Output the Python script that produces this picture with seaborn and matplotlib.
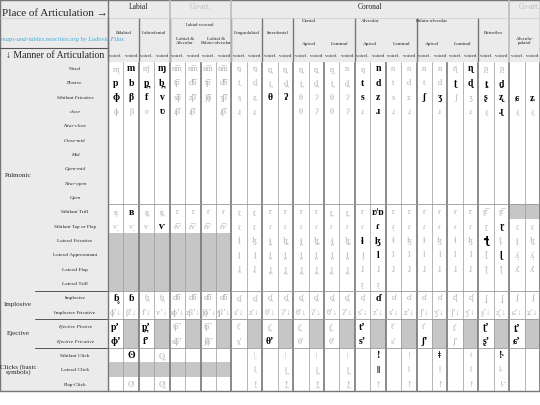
import numpy as np
import pandas as pd
import seaborn as sns
import matplotlib.pyplot as plt
from matplotlib.colors import ListedColormap

sns.set_style("white")
plt.rcParams['font.family'] = ['Liberation Serif', 'DejaVu Serif', 'DejaVu Sans']

row_labels = ['Nasal', 'Plosive', 'Sibilant Fricative', 'close', 'Near-close', 'Close-mid',
              'Mid', 'Open-mid', 'Near-open', 'Open', 'Sibilant Trill', 'Sibilant Tap or Flap',
              'Lateral Fricative', 'Lateral Approximant', 'Lateral Flap', 'Lateral Trill',
              'Implosive', 'Implosive Fricative', 'Ejective Plosive', 'Ejective Fricative',
              'Sibilant Click', 'Lateral Click', 'Flap-Click']
italic_rows = ['close', 'Near-close', 'Close-mid', 'Mid', 'Open-mid', 'Near-open', 'Open',
               'Ejective Plosive', 'Ejective Fricative']

nasal = ['m̥', 'm', 'ɱ̊', 'ɱ', 'n͡m', 'n͡m', 'n͡m', 'n͡m', 'n̼', 'n̼', 'n̪', 'n̪', 'n̪', 'n̪',
         'n̺', 'n', 'n̻', 'n', 'n', 'n', 'n', 'n', 'ɳ̊', 'ɳ', 'ɲ̟', 'ɲ̟', '', '']
plosive = ['p', 'b', 'p̪', 'b̪', 't͡p', 'd͡b', 't͡p', 'd͡b', 't̼', 'd̼', 't̪', 'd̪', 't̪', 'd̪',
           't̪', 'd̪', 't', 'd', 't', 'd', 't', 'd', 'ʈ', 'ɖ', 'ṯ', 'ḏ', '', '']
sib_fric = ['ɸ', 'β', 'f', 'v', 's͡ɸ', 'z͡β', 'ʃ͡ɸ', 'ʒ͡β', 's̼', 'z̼', 'θ', 'ʔ', 'θ', 'ʔ',
            'θ', 'ʔ', 's', 'z', 's', 'z', 'ʃ', 'ʒ', 'ʃ', 'ʒ', 'ʂ', 'ʐ', 'ɕ', 'ʑ']
close_ = ['ɸ', 'β', 'ʋ', 'ʋ', 'ɹ͡β', 'ɹ͡β', '', 'ɻ͡β', 'ɹ̼', 'ɹ̼', '', '', 'θ', 'ʔ', 'θ', 'ʔ',
          'ɹ', 'ɹ', 'ɹ', 'ɹ', '', 'ɹ', '', 'ɹ', 'ɻ', 'ɻ', 'ɻ', 'ɻ']
sib_trill = ['ʙ̥', 'ʙ', 'ʙ̪', 'ʙ̪', 'r', 'r', 'r', 'r', 'r̼', 'r̼', 'r', 'r', 'r', 'r',
             'r̪', 'r̪', 'r', 'r/ɒ', 'r', 'r', 'r', 'r', 'r', 'r', 'ɽ͡r', 'ɽ͡r', '', '']
sib_tap = ['ⱱ̟', 'ⱱ̟', 'ⱱ', 'ⱱ', 'ɾ͡ⱱ', 'ɾ͡ⱱ', 'ɾ͡ⱱ', 'ɾ͡ⱱ', 'ɾ̼', 'ɾ̼', 'ɾ', 'ɾ', 'ɾ', 'ɾ',
           'ɾ', 'ɾ', 'ɾ', 'ɾ', 'ɾ̟', 'ɾ', 'ɾ', 'ɾ', 'ɾ', 'ɾ', 'ɽ', 'ɽ', 'ɾ̠', 'ɾ̠']
lat_fric = [''] * 8 + ['ɬ̼', 'ɮ̼', 'ɬ̪', 'ɮ̪', 'ɬ̪', 'ɮ̪', 'ɬ̪', 'ɮ̪', 'ɬ', 'ɮ', 'ɬ', 'ɮ',
                       'ɬ', 'ɮ', 'ɬ', 'ɮ', 'ꞎ', 'ɭ˔', 'ɬ̠', 'ɮ̠']
lat_appr = [''] * 8 + ['l̼', 'l̼', 'l̪', 'l̪', 'l̪', 'l̪', 'l̪', 'l̪', 'l̥', 'l', 'l', 'l',
                       'l', 'l', 'l', 'l', 'ɭ̊', 'ɭ', 'ʎ̟', 'ʎ̟']
lat_flap = [''] * 8 + ['ɺ̼', 'ɺ̼', 'ɺ̪', 'ɺ̪', 'ɺ̪', 'ɺ̪', 'ɺ̪', 'ɺ̪', 'ɺ', 'ɺ', 'ɺ', 'ɺ',
                       'ɺ', 'ɺ', 'ɺ', 'ɺ', 'ɭ̆', 'ɭ̆', 'ʎ̆', 'ʎ̆']
lat_trill = [''] * 8 + ['', '', '', '', '', '', '', '', 'r̝', 'r̝', '', '', '', '', '', '',
                        '', '', '', '']
implosive = ['ɓ̥', 'ɓ', 'ɓ̪', 'ɓ̪', 'ɗ͡ɓ', 'ɗ͡ɓ', 'ɗ͡ɓ', 'ɗ͡ɓ', 'ɗ̼', 'ɗ̼', 'ɗ̪', 'ɗ̪', 'ɗ̪', 'ɗ̪',
             'ɗ̪', 'ɗ̪', 'ɗ̥', 'ɗ', 'ɗ', 'ɗ', 'ɗ', 'ɗ', 'ᶑ̊', 'ᶑ', 'ʄ̟', 'ʄ̟', 'ʄ', 'ʄ']
impl_fric = ['ɸʼ↓', 'βʼ↓', 'fʼ↓', 'vʼ↓', 'sɸʼ↓', 'zβʼ↓', 'ʃɸʼ↓', 'ʒβʼ↓', 'sʼ↓', 'zʼ↓', 'θʼ↓', 'ʔʼ↓',
             'θʼ↓', 'ʔʼ↓', 'θʼ↓', 'ʔʼ↓', 'sʼ↓', 'zʼ↓', 'sʼ↓', 'zʼ↓', 'ʃʼ↓', 'ʒʼ↓', 'ʃʼ↓', 'ʒʼ↓',
             'ʂʼ↓', 'ʐʼ↓', 'ɕʼ↓', 'ʑʼ↓']
ej_plos = ['pʼ', '', 'p̪ʼ', '', 't͡pʼ', '', 't͡pʼ', '', 't̼ʼ', '', 't̪ʼ', '', 't̪ʼ', '',
           't̪ʼ', '', 'tʼ', '', 'tʼ', '', 'tʼ', '', 't̠ʼ', '', 'ʈʼ', '', 'ṯʼ', '']
ej_fric = ['ɸʼ', '', 'fʼ', '', 's͡ɸʼ', '', 'ʃ͡ɸʼ', '', 's̼ʼ', '', 'θʼ', '', 'θʼ', '',
           'θʼ', '', 'sʼ', '', 'sʼ', '', 'ʃʼ', '', 'ʃʼ', '', 'ʂʼ', '', 'ɕʼ', '']
sib_click = ['', 'ʘ', '', 'ʘ̪', '', '', '', '', '', 'ǀ̼', '', 'ǀ', '', 'ǀ', '', 'ǀ',
             '', 'ǃ', '', 'ǃ', '', 'ǂ', '', 'ǂ', '', 'ǃ˞', '', '']
lat_click = [''] * 8 + ['', 'ǁ̼', '', 'ǁ̪', '', 'ǁ̪', '', 'ǁ̪', '', 'ǁ', '', 'ǁ', '', 'ǁ',
                        '', 'ǁ', '', 'ǁ˞', '', '']
flap_click = ['', 'ʘ̆', '', 'ʘ̪̆', '', '', '', '', '', 'ǃ̼̆', '', 'ǃ̪̆', '', 'ǃ̪̆', '', 'ǃ̪̆',
              '', 'ǃ̆', '', 'ǃ̆', '', 'ǃ̆', '', 'ǃ̆', '', 'ǃ˞̆', '', '']
empty = [''] * 28
rows = [nasal, plosive, sib_fric, close_, empty, empty, empty, empty, empty, empty,
        sib_trill, sib_tap, lat_fric, lat_appr, lat_flap, lat_trill, implosive, impl_fric,
        ej_plos, ej_fric, sib_click, lat_click, flap_click]

# black symbols: (row, column)
dark = [(0, 1), (0, 3), (0, 17), (0, 23), (1, 0), (1, 1), (1, 2), (1, 3), (1, 16), (1, 17),
        (1, 22), (1, 23), (1, 24), (1, 25), (2, 0), (2, 1), (2, 2), (2, 3), (2, 10), (2, 11),
        (2, 16), (2, 17), (2, 20), (2, 21), (2, 24), (2, 25), (2, 26), (2, 27), (3, 3),
        (3, 17), (3, 25), (10, 1), (10, 17), (11, 3), (11, 17), (11, 25), (12, 16), (12, 17),
        (12, 24), (13, 17), (13, 25), (16, 0), (16, 1), (16, 17), (18, 0), (18, 2), (18, 16),
        (18, 24), (18, 26), (19, 0), (19, 2), (19, 10), (19, 16), (19, 20), (19, 24),
        (19, 26), (20, 1), (20, 17), (20, 21), (20, 25), (21, 17)]

groups = ['Bilabial', 'Labiodental', 'Labial &\nAlveolar', 'Labial &\nPalato-alveolar',
          'Linguolabial', 'Interdental', 'Apical', 'Laminal', 'Apical', 'Laminal',
          'Apical', 'Laminal', 'Retroflex', 'Alveolo-\npalatal']

# grey (impossible) cells
shade = np.zeros((23, 28))
shade[12:16, 0:8] = 1
shade[18:20, 1::2] = 1
shade[21, 0:8] = 1
shade[10, 26:28] = 1

W, H = 540, 405
x0, y0, y1 = 108, 61, 391
fig = plt.figure(figsize=(5.4, 4.05), dpi=100)
axb = fig.add_axes([x0 / W, 1 - y1 / H, 1 - x0 / W, (y1 - y0) / H])
sns.heatmap(pd.DataFrame(shade), cmap=ListedColormap(['white', '#c6c6c6']), cbar=False,
            xticklabels=False, yticklabels=False, ax=axb, vmin=0, vmax=1)
for r, syms in enumerate(rows):
    for c, s in enumerate(syms):
        if s:
            isd = (r, c) in dark
            axb.text(c + 0.5, r + 0.55, s, ha='center', va='center',
                     fontsize=7 if isd else 6, color='black' if isd else '#b0b0b0',
                     fontweight='bold' if isd else 'normal')
for c in range(0, 29, 2):
    axb.axvline(c, color='#777777', lw=1.2)
for c in range(1, 29, 2):
    axb.axvline(c, color='#999999', lw=0.5, ymin=0, ymax=1)
for r in [10, 16, 18, 20]:
    axb.axhline(r, color='#999999', lw=0.6)

# header and row-label overlay in pixel coordinates
ax = fig.add_axes([0, 0, 1, 1], facecolor='none')
ax.set_xlim(0, W)
ax.set_ylim(H, 0)
ax.axis('off')
ax.add_patch(plt.Rectangle((0, 0), W, y0, color='#ebebeb', zorder=0))
ax.add_patch(plt.Rectangle((0, y0), x0, y1 - y0, color='#ebebeb', zorder=0))
ax.add_patch(plt.Rectangle((0, 0), W, y1, fill=False, ec='#777777', lw=1))
cw = (W - x0) / 28
ax.text(55, 14, 'Place of Articulation →', ha='center', va='center', fontsize=8)
ax.text(x0 + 2 * cw, 7, 'Labial', ha='center', va='center', fontsize=5.5)
ax.text(x0 + 6 * cw, 7, 'Co-art.', ha='center', va='center', fontsize=5.5, color='#bbbbbb')
ax.text(x0 + 17 * cw, 7, 'Coronal', ha='center', va='center', fontsize=5.5)
ax.text(x0 + 27.3 * cw, 7, 'Co-art.', ha='center', va='center', fontsize=5.5, color='#bbbbbb')
ax.text(x0 + 6 * cw, 25, 'Labial-coronal', ha='center', va='center', fontsize=3.5)
for name, cx in [('Dental', 13), ('Alveolar', 17), ('Palato-alveolar', 21)]:
    ax.text(x0 + cx * cw, 21, name, ha='center', va='center', fontsize=3.8)
for g, name in enumerate(groups):
    cx = x0 + (2 * g + 1) * cw
    yy = 44 if 2 <= g <= 3 or 6 <= g <= 11 else 33
    ax.text(cx, yy if '\n' not in name else 41, name, ha='center', va='center',
            fontsize=3.6 if g < 6 or g > 11 else 3.8, linespacing=0.9)
    for k, lab in enumerate(['voicel.', 'voiced']):
        ax.text(x0 + (2 * g + k + 0.5) * cw, 56, lab, ha='center', va='center', fontsize=3.3)
for c in [0, 2, 4, 8, 10, 12, 16, 20, 24]:
    ax.plot([x0 + c * cw] * 2, [18, y0], color='#777777', lw=1)
for c in [4, 8, 26]:
    ax.plot([x0 + c * cw] * 2, [0, y0], color='#bbbbbb', lw=1.2)
ax.plot([0, W], [18, 18], color='#cccccc', lw=0.5)
ax.text(1, 40, 'maps-and-tables.neocities.org by Ludovic Filas', ha='left', va='center',
        fontsize=4.6, color='#3ba7d6', style='italic')
ax.plot([0, x0], [48, 48], color='#555555', lw=0.8)
ax.text(55, 55, '↓ Manner of Articulation', ha='center', va='center', fontsize=7)
rh = (y1 - y0) / 23
for r, lab in enumerate(row_labels):
    ax.text(75, y0 + (r + 0.55) * rh, lab, ha='center', va='center', fontsize=3.8,
            style='italic' if lab in italic_rows else 'normal')
for name, ra, rb in [('Pulmonic', 0, 16), ('Implosive', 16, 18), ('Ejective', 18, 20),
                     ('Clicks (basic\nsymbols)', 20, 23)]:
    ax.text(18, y0 + (ra + rb) / 2 * rh, name, ha='center', va='center', fontsize=5,
            linespacing=0.9)
    if ra:
        ax.plot([35, x0], [y0 + ra * rh] * 2, color='#555555', lw=0.7)
ax.plot([x0, x0], [0, y1], color='#777777', lw=1)

fig.savefig('out.png', dpi=100)
